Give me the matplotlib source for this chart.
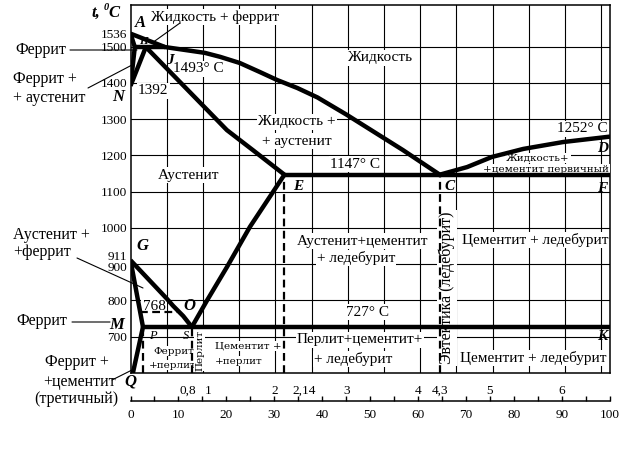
import matplotlib
matplotlib.use('Agg')
import matplotlib.pyplot as plt

W, H = 620, 470
plt.rcParams['font.family'] = ['Liberation Serif', 'DejaVu Serif']

# ---------------- data ----------------
T_MIN, T_MAX = 600, 1615
temp_grid = [700, 800, 900, 1000, 1100, 1200, 1300, 1400, 1500]
temp_ticks = [700, 800, 1000, 1100, 1200, 1300, 1400, 1500, 1536]
cem_grid = [7.55, 15.1, 22.65, 30.2, 37.75, 45.3, 52.85, 60.4, 67.95, 75.5, 83.05, 90.6, 98.15]
cem_ticks = [0, 10, 20, 30, 40, 50, 60, 70, 80, 90, 100]
cem_minor = [5, 15, 25, 35, 45, 55, 65, 75, 85, 95]
carbon_values = [0.8, 1, 2, 2.14, 3, 4, 4.3, 5, 6]
carbon_labels = ['0,8', '1', '2', '2,14', '3', '4', '4,3', '5', '6']

# liquidus A-B-C and C-D
liq_x = [0, 7.2, 15.5, 18.7, 22.8, 27.0, 30.6, 34.8, 39.0, 45.0, 56.8, 64.5]
liq_t = [1536, 1499, 1483, 1472, 1455, 1430, 1408, 1386, 1360, 1313, 1215, 1147]
liqcd_x = [64.5, 70.2, 75.4, 81.9, 90.2, 100]
liqcd_t = [1147, 1168, 1196, 1218, 1237, 1252]
# delta region
ah_x, ah_t = [0, 0.9], [1536, 1499]
hb_x, hb_t = [0.9, 7.2], [1499, 1499]
hn_x, hn_t = [0.9, 0], [1499, 1392]
jn_x, jn_t = [3.2, 0], [1499, 1392]
# solidus J-E
je_x = [3.2, 20.1, 25.5, 32.1]
je_t = [1499, 1270, 1215, 1147]
# eutectic E-C-F
ecf_x, ecf_t = [32.1, 100], [1147, 1147]
# G-S, G-P, P-Q
gs_x = [0, 7.5, 8.9, 11.0, 12.8]
gs_t = [911, 806, 785, 757, 727]
gp_x, gp_t = [0, 2.6], [911, 727]
pq_x, pq_t = [2.6, 0.5], [727, 600]
# E-S
es_x = [12.8, 16.0, 20.1, 24.9, 32.1]
es_t = [727, 801, 892, 1003, 1147]
# eutectoid P-S-K
psk_x, psk_t = [2.6, 100], [727, 727]
# dashed lines
mo_x, mo_t = [2.0, 9.8], [768, 768]
dashed_vertical_x = [2.6, 12.8, 32.1, 64.5]
dashed_vertical_top = [727, 727, 1147, 1147]

# ---------------- figure ----------------
fig = plt.figure(figsize=(W / 100, H / 100), dpi=100)
ax = fig.add_axes([130.5 / W, (H - 373) / H, 479.5 / W, 368 / H])
ax.set_xlim(0, 100)
ax.set_ylim(T_MIN, T_MAX)
ax.set_xticks([])
ax.set_yticks(temp_ticks)
ax.set_yticklabels([str(t) for t in temp_ticks])
ax.tick_params(axis='y', length=0, pad=2.5, labelsize=9.5)
for s in ax.spines.values():
    s.set_linewidth(1.1)

for t in temp_grid:
    ax.axhline(t, color='black', lw=0.8, zorder=1)
for x in cem_grid:
    ax.axvline(x, color='black', lw=0.8, zorder=1)

thick = dict(color='black', lw=3.2, zorder=4, solid_capstyle='butt')
for xs, ts in [(liq_x, liq_t), (liqcd_x, liqcd_t), (ah_x, ah_t), (hb_x, hb_t),
               (hn_x, hn_t), (jn_x, jn_t), (je_x, je_t), (ecf_x, ecf_t),
               (gs_x, gs_t), (gp_x, gp_t), (pq_x, pq_t), (es_x, es_t),
               (psk_x, psk_t)]:
    ax.plot(xs, ts, **thick)

dash = dict(color='black', lw=1.6, zorder=4, linestyle=(0, (3.5, 2)))
ax.plot(mo_x, mo_t, **dash)
for x, top in zip(dashed_vertical_x, dashed_vertical_top):
    ax.plot([x, x], [T_MIN, top], **dash)

# 900 / 911 labels (nudged apart)
ax.annotate('911', xy=(0, 911), xycoords=('axes fraction', 'data'), xytext=(-2.5, 2.5),
            textcoords='offset points', ha='right', va='center', fontsize=9.5)
ax.annotate('900', xy=(0, 900), xycoords=('axes fraction', 'data'), xytext=(-2.5, -2.5),
            textcoords='offset points', ha='right', va='center', fontsize=9.5)

# ---------------- bottom scale ----------------
ax2 = fig.add_axes([130.5 / W, (H - 401) / H, 479.5 / W, 12 / H])
ax2.patch.set_alpha(0)
ax2.set_xlim(0, 100)
ax2.set_ylim(0, 1)
for k in ['top', 'left', 'right']:
    ax2.spines[k].set_visible(False)
ax2.spines['bottom'].set_linewidth(1.1)
ax2.set_yticks([])
ax2.set_xticks(cem_ticks)
ax2.set_xticks(cem_minor, minor=True)
ax2.set_xticklabels([str(v) for v in cem_ticks])
ax2.tick_params(axis='x', which='both', direction='in', length=3.8, width=1, pad=6, labelsize=9.5)
for c, lbl in zip(carbon_values, carbon_labels):
    dx, ha = 0, 'center'
    if lbl == '2,14':
        dx, ha = 5.5, 'left'
    if lbl == '1':
        dx = 4.5
    ax2.annotate(lbl, xy=(c * 100 / 6.67, 0), xycoords=('data', 'axes fraction'),
                 xytext=(dx, 5.4), textcoords='offset points', ha=ha, va='baseline', fontsize=9.5)

# ---------------- labels ----------------
def lab(s, x, y, size=11, ha='center', va='center', bg=True, style='normal',
        weight='normal', family=None, rot=0):
    bbox = dict(boxstyle='square,pad=0.08', fc='white', ec='none') if bg else None
    kw = {}
    if family:
        kw['family'] = family
    ax.annotate(s, xy=(x, H - y), xycoords='figure pixels', ha=ha, va=va, fontsize=size,
                bbox=bbox, zorder=3, annotation_clip=False, fontstyle=style,
                fontweight=weight, rotation=rot, **kw)

def letter(s, x, y, size=12):
    lab(s, x, y, size=size, bg=False, style='italic', weight='bold')

def leader(x1, y1, x2, y2):
    ax.annotate('', xy=(x2, H - y2), xycoords='figure pixels', xytext=(x1, H - y1),
                textcoords='figure pixels', annotation_clip=False,
                arrowprops=dict(arrowstyle='-', lw=0.8, color='black', shrinkA=0, shrinkB=0))

small = 'DejaVu Serif'

# axis title
lab('t,', 92, 13, size=12, ha='left', bg=False, style='italic', weight='bold')
lab('0', 106, 8, size=7.5, bg=False, style='italic', weight='bold')
lab('C', 108, 13, size=12, ha='left', bg=False, style='italic', weight='bold')

lab('Жидкость + феррит', 151, 17, ha='left')
leader(180, 23, 152, 43)
lab('Жидкость', 381, 58)
lab('Жидкость +', 258, 122, ha='left')
lab('+ аустенит', 262, 141, ha='left')
lab('1493° C', 173, 69, ha='left')
lab('1392', 138, 91, ha='left')
lab('Аустенит', 189, 175)
lab('1147° C', 355, 164)
lab('1252° C', 608, 129, ha='right')
lab('Жидкость+', 538, 158, size=7.5, family=small)
lab('+цементит первичный', 546, 169, size=7.5, family=small)
lab('Аустенит+цементит', 363, 241)
lab('+ ледебурит', 356, 258)
lab('Цементит + ледебурит', 535, 240)
lab('727° C', 367, 312)
lab('Перлит+цементит+', 360, 340)
lab('+ ледебурит', 353, 359)
lab('Цементит + ледебурит', 533, 358)
lab('Феррит', 174, 351, size=7.5, family=small)
lab('+перлит', 173, 365, size=7.5, family=small)
lab('Цементит +', 215, 346, size=7.5, ha='left', family=small)
lab('+перлит', 215, 361, size=7.5, ha='left', family=small)
lab('Перлит', 199.5, 350, size=7.5, rot=90, family=small)
lab('Эвтектика (ледебурит)', 447, 288, size=11.5, rot=90)
lab('768', 154, 306)

# left side labels
lab('Феррит', 41, 50, size=11.5, bg=False)
leader(70, 50, 137, 50)
lab('Феррит +', 13, 79, size=11.5, ha='left', bg=False)
lab('+ аустенит', 13, 98, size=11.5, ha='left', bg=False)
leader(88, 88, 132, 65)
lab('Аустенит +', 13, 235, size=11.5, ha='left', bg=False)
lab('+феррит', 13, 252, size=11.5, ha='left', bg=False)
leader(77, 258, 143, 288)
lab('Феррит', 42, 321, size=11.5, bg=False)
leader(72, 322, 110, 322)
lab('Феррит +', 77, 362, size=11.5, bg=False)
lab('+цементит', 79, 382, size=11.5, bg=False)
lab('(третичный)', 76, 399, size=11.5, bg=False)
leader(112, 380, 132, 370)

# point letters
letter('A', 140, 23)
letter('H', 143, 41, size=8)
letter('J', 170, 60, size=11)
letter('N', 118, 97)
letter('E', 298, 186, size=11)
letter('C', 450, 187, size=11)
letter('F', 602, 189, size=11)
letter('D', 603, 149, size=11)
letter('G', 142, 246)
letter('O', 189, 306)
letter('M', 117, 325)
letter('Q', 130, 382)
letter('K', 602, 337, size=11)
lab('P', 153, 336, size=9, bg=False, style='italic')
lab('S', 186, 336, size=9, bg=False, style='italic')

fig.savefig('out.png', dpi=100)
